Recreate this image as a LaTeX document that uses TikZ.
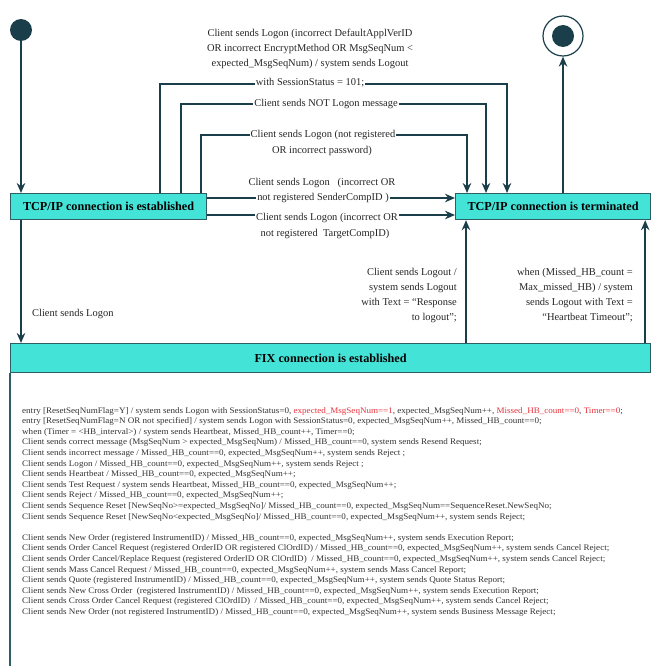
\documentclass[tikz,border=0pt]{standalone}
\usepackage{fontspec}
\setmainfont{Liberation Serif}
\newfontfamily\bodyfont{Liberation Serif}[FakeStretch=1.065]
\usetikzlibrary{arrows.meta,calc}
\definecolor{turq}{HTML}{44E3D8}
\definecolor{linec}{HTML}{1B3F4A}
\definecolor{bordc}{HTML}{2D5E66}
\definecolor{redt}{HTML}{E8323C}
\definecolor{txtc}{HTML}{262626}
\definecolor{bodyc}{HTML}{333333}
\begin{document}
\begin{tikzpicture}[x=1pt,y=-1pt,
  statebox/.style={draw=bordc, line width=1.2pt, fill=turq, font=\bfseries\fontsize{12.2}{14}\selectfont, inner sep=0pt, anchor=north west},
  conn/.style={draw=linec, line width=2.3pt, -{Stealth[length=10pt,width=8.5pt]}},
  lbl/.style={font=\fontsize{10.45}{15}\selectfont, text=txtc, align=center, inner sep=1pt},
  lblbg/.style={lbl, fill=white},
  bodytext/.style={font=\bodyfont\fontsize{8.5}{10.6}\selectfont, text=bodyc, align=left, anchor=north west, inner sep=0pt}
]
\useasboundingbox (0,0) rectangle (652,666);
\fill[white] (0,0) rectangle (652,666);

% state boxes
\node[statebox, minimum width=196pt, minimum height=26pt] (est) at (10,193) {TCP/IP connection is established};
\node[statebox, minimum width=195pt, minimum height=26pt] (term) at (455,193) {TCP/IP connection is terminated};
\node[statebox, minimum width=640pt, minimum height=29pt] (fix) at (10,343) {FIX connection is established};
\draw[draw=bordc, line width=1.2pt] (fix.south west) -- ++(0,330);

% initial and final states
\node[circle, fill=linec, minimum size=22pt, inner sep=0pt] (start) at (21,30) {};
\node[circle, draw=linec, line width=1.2pt, minimum size=40pt, inner sep=0pt] (final) at (563,36) {};
\node[circle, fill=linec, minimum size=22pt, inner sep=0pt] (finalin) at (final.center) {};

% helper coordinates
\coordinate (e1) at ($(est.north west)+(150,0)$);
\coordinate (e2) at ($(est.north west)+(171,0)$);
\coordinate (e3) at ($(est.north west)+(191,0)$);
\coordinate (t1) at ($(term.north west)+(52,0)$);
\coordinate (t2) at ($(term.north west)+(31,0)$);
\coordinate (t3) at ($(term.north west)+(12,0)$);
\coordinate (m1) at (330,84);
\coordinate (m2) at (330,104);
\coordinate (m3) at (330,135);
\coordinate (f6) at ($(fix.north west)+(456,0)$);
\coordinate (f7) at ($(fix.north east)+(-6,0)$);

% connectors
\draw[conn] (start) -- (start |- est.north);
\draw[conn] (term.north -| final) -- (final);
\draw[conn] (e1) |- (m1) -| (t1);
\draw[conn] (e2) |- (m2) -| (t2);
\draw[conn] (e3) |- (m3) -| (t3);
\draw[conn] ($(est.north east)+(0,5)$) -- ($(term.north west)+(0,5)$);
\draw[conn] ($(est.north east)+(0,22)$) -- ($(term.north west)+(0,22)$);
\draw[conn] (f6) -- (f6 |- term.south);
\draw[conn] (f7) -- (f7 |- term.south);
\draw[conn] (est.south -| start) -- (fix.north -| start);

% labels
\node[lbl] (l1a) at (310,49) {Client sends Logon (incorrect DefaultApplVerID\\OR incorrect EncryptMethod OR MsgSeqNum <\\expected\_MsgSeqNum) / system sends Logout};
\node[lblbg] (l1b) at (310,83) {with SessionStatus = 101;};
\node[lblbg] (l2) at (326,104) {Client sends NOT Logon message};
\node[lblbg] (l3a) at (323,135) {Client sends Logon (not registered};
\node[lbl] (l3b) at (322,151) {OR incorrect password)};
\node[lbl] (l4a) at (322,183) {Client sends Logon \ \ (incorrect OR};
\node[lblbg] (l4b) at (323,198.5) {not registered SenderCompID )};
\node[lblbg] (l5a) at (327,218) {Client sends Logon (incorrect OR};
\node[lbl] (l5b) at (325,234) {not registered \ TargetCompID)};
\node[lbl, align=right, anchor=north east] (l6) at (458,267) {Client sends Logout /\\system sends Logout\\with Text = “Response\\to logout”;};
\node[lbl, align=right, anchor=north east] (l7) at (634,267) {when (Missed\_HB\_count =\\Max\_missed\_HB) / system\\sends Logout with Text =\\“Heartbeat Timeout”;};
\node[lbl, anchor=west] (l8) at (31,314) {Client sends Logon};

% body text
\node[bodytext] (body) at (22,407) {%
entry [ResetSeqNumFlag=Y] / system sends Logon with SessionStatus=0, \textcolor{redt}{expected\_MsgSeqNum==1}, expected\_MsgSeqNum++, \textcolor{redt}{Missed\_HB\_count==0}, \textcolor{redt}{Timer==0};\\
entry [ResetSeqNumFlag=N OR not specified] / system sends Logon with SessionStatus=0, expected\_MsgSeqNum++, Missed\_HB\_count==0;\\
when (Timer = <HB\_interval>) / system sends Heartbeat, Missed\_HB\_count++, Timer==0;\\
Client sends correct message (MsgSeqNum > expected\_MsgSeqNum) / Missed\_HB\_count==0, system sends Resend Request;\\
Client sends incorrect message / Missed\_HB\_count==0, expected\_MsgSeqNum++, system sends Reject ;\\
Client sends Logon / Missed\_HB\_count==0, expected\_MsgSeqNum++, system sends Reject ;\\
Client sends Heartbeat / Missed\_HB\_count==0, expected\_MsgSeqNum++;\\
Client sends Test Request / system sends Heartbeat, Missed\_HB\_count==0, expected\_MsgSeqNum++;\\
Client sends Reject / Missed\_HB\_count==0, expected\_MsgSeqNum++;\\
Client sends Sequence Reset [NewSeqNo>=expected\_MsgSeqNo]/ Missed\_HB\_count==0, expected\_MsgSeqNum==SequenceReset.NewSeqNo;\\
Client sends Sequence Reset [NewSeqNo<expected\_MsgSeqNo]/ Missed\_HB\_count==0, expected\_MsgSeqNum++, system sends Reject;\\[10.6pt]
Client sends New Order (registered InstrumentID) / Missed\_HB\_count==0, expected\_MsgSeqNum++, system sends Execution Report;\\
Client sends Order Cancel Request (registered OrderID OR registered ClOrdID) / Missed\_HB\_count==0, expected\_MsgSeqNum++, system sends Cancel Reject;\\
Client sends Order Cancel/Replace Request (registered OrderID OR ClOrdID) \ / Missed\_HB\_count==0, expected\_MsgSeqNum++, system sends Cancel Reject;\\
Client sends Mass Cancel Request / Missed\_HB\_count==0, expected\_MsgSeqNum++, system sends Mass Cancel Report;\\
Client sends Quote (registered InstrumentID) / Missed\_HB\_count==0, expected\_MsgSeqNum++, system sends Quote Status Report;\\
Client sends New Cross Order \ (registered InstrumentID) / Missed\_HB\_count==0, expected\_MsgSeqNum++, system sends Execution Report;\\
Client sends Cross Order Cancel Request (registered ClOrdID) \ / Missed\_HB\_count==0, expected\_MsgSeqNum++, system sends Cancel Reject;\\
Client sends New Order (not registered InstrumentID) / Missed\_HB\_count==0, expected\_MsgSeqNum++, system sends Business Message Reject;};
\end{tikzpicture}
\end{document}
